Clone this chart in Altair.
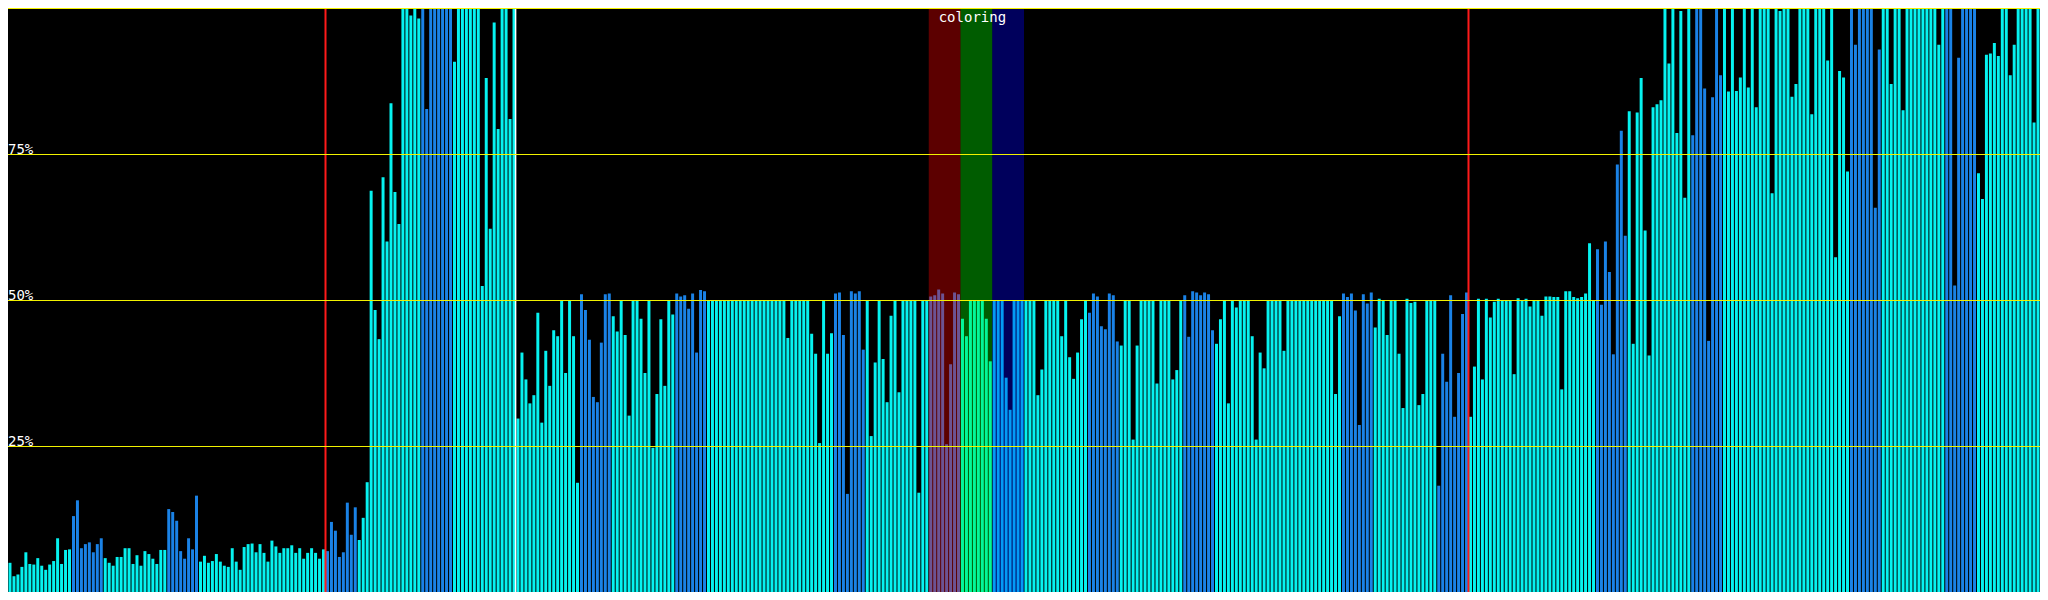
import altair as alt
import pandas as pd

# ---- bar heights (percent) ----
values_a = [
    5.0, 2.7, 3.0, 4.3, 6.8, 4.8, 4.7, 5.8, 4.5, 3.8,
    4.7, 5.3, 9.2, 4.8, 7.2, 7.3, 13.0, 15.7, 7.5, 8.2,
    8.5, 6.8, 8.2, 9.2, 5.8, 5.0, 4.5, 6.0, 6.0, 7.5,
    7.5, 4.8, 6.3, 4.5, 7.0, 6.5, 5.7, 4.8, 7.2, 7.2,
    14.2, 13.7, 12.2, 7.0, 5.7, 9.2, 7.3, 16.5, 5.2, 6.2,
    5.0, 5.3, 6.5, 5.2, 4.5, 4.3, 7.5, 5.2, 3.8, 7.7,
    8.2, 8.3, 6.8, 8.2, 6.7, 5.2, 8.8, 7.8, 6.7, 7.5,
    7.5, 8.0, 6.7, 7.5, 5.7, 6.7, 7.5, 6.7, 5.7, 7.3,
    7.0, 12.0, 10.5, 6.0, 6.8, 15.3, 9.8, 14.5, 8.9, 12.7,
    18.8, 68.7, 48.3, 43.3, 71.0, 60.0, 83.7, 68.5, 63.0, 100,
    100, 98.7, 100, 98.2, 100, 82.7, 100, 100, 100, 100,
    100, 100, 90.8, 100, 100, 100, 100, 100, 100, 52.4,
    88.0, 62.2, 97.5, 79.3, 100, 100, 81.0, 100,
]
values_b = [
    29.7, 41.0, 36.4, 32.3, 33.7, 47.8, 29.0, 41.3, 35.3, 44.8, 43.8, 50,
    37.5, 50, 43.8, 18.7, 51.0, 48.3, 43.2, 33.4, 32.5, 42.7,
    51.0, 51.1, 47.2, 44.6, 50, 44.0, 30.2, 50, 50, 46.8,
    37.5, 50, 24.7, 33.9, 46.7, 35.3, 50, 47.5, 51.1, 50.6,
    50.8, 48.5, 51.1, 41.0, 51.7, 51.5, 50, 50, 50, 50,
    50, 50, 50, 50, 50, 50, 50, 50, 50, 50,
    50, 50, 50, 50, 50, 50, 43.5, 50, 50, 50,
    50, 50, 44.2, 40.8, 25.5, 50, 40.8, 44.3, 51.1, 51.3,
    44.0, 16.8, 51.5, 51.1, 51.5, 41.5, 50, 26.7, 39.3, 50,
    39.9, 32.5, 47.3, 50, 34.2, 50, 50, 50, 50, 17.0,
    50, 50, 50.6, 50.8, 51.8, 51.1, 25.3, 39.0, 51.3, 51.0,
    46.8, 43.8, 50, 50, 50, 50, 46.8, 39.5, 50, 50,
    50, 36.7, 31.2, 50, 50, 50,
]
values_c = [
    50, 50, 50, 33.7, 38.1, 50, 50, 50, 50, 43.8,
    50, 40.2, 36.5, 41.0, 46.7, 50, 47.8, 51.1, 50.6, 45.5,
    45.0, 51.1, 50.8, 42.9, 42.2, 50, 50, 26.1, 42.2, 50,
    50, 50, 50, 35.7, 50, 50, 50, 36.4, 38.0, 50,
    50.8, 43.7, 51.5, 51.3, 50.8, 51.3, 51.0, 44.8, 42.5, 46.7,
    50, 32.3, 50, 48.7, 50, 50, 50, 43.8, 26.1, 41.0,
    38.3, 50, 50, 50, 50, 41.3, 50, 50, 50, 50,
    50, 50, 50, 50, 50, 50, 50, 50, 33.9, 47.2,
    51.1, 50.5, 51.1, 48.2, 28.6, 51.0, 49.4, 51.3, 45.3, 50.2,
    50, 44.0, 50, 50, 40.8, 31.5, 50.2, 49.5, 49.7, 32.0,
    33.9, 50, 50, 50, 18.2, 40.8, 36.0, 50.8, 30.0, 37.5,
    47.6, 51.3, 30.0, 38.6, 50.2, 36.4, 50.2, 47.0, 49.7, 50.2,
    50, 50, 50, 37.3, 50.3, 50, 50.2, 48.9,
]
values_d = [
    50, 50, 47.3, 50.6, 50.6, 50.5, 50.5, 34.7, 51.5, 51.5,
    50.5, 50.3, 50.5, 51.1, 59.7, 50, 58.7, 49.2, 60.0, 54.8,
    40.7, 73.2, 79.0, 61.0, 82.3, 42.5, 82.1, 88.0, 61.9, 40.5,
    83.0, 83.5, 84.2, 100, 90.5, 100, 78.6, 99.5, 67.5, 100,
    78.2, 100, 100, 86.2, 43.0, 84.7, 100, 88.5, 100, 85.7,
    100, 85.8, 88.1, 100, 86.4, 100, 83.0, 100, 100, 100,
    68.3, 100, 99.5, 100, 100, 84.8, 87.0, 100, 100, 100,
    81.8, 100, 100, 100, 91.0, 100, 57.3, 89.2, 88.1, 72.0,
    100, 93.7, 100, 100, 100, 100, 65.8, 92.9, 100, 100,
    87.0, 100, 100, 82.5, 100, 100, 100, 100, 100, 100,
    100, 100, 93.7, 100, 100, 100, 52.5, 91.5, 100, 100,
    100, 100, 71.7, 67.3, 92.0, 92.2, 94.0, 91.8, 100, 100,
    88.5, 93.7, 100, 100, 100, 100, 80.4, 100,
]

# first index of each 8-bar run drawn in the darker blue
blue_runs = [16, 40, 80, 104, 144, 168, 208, 232, 272, 296, 336, 360, 400, 424, 464, 488]
run_length = 8

# highlighted ranges (in bar slots) and their tint
overlay_names = ["red", "green", "blue"]
overlay_start = [232, 240, 248]
overlay_end = [240, 248, 256]
overlay_title = "coloring"
overlay_title_pos = 243

red_markers = [80, 368]
white_markers = [127.9]

grid_levels = [25, 50, 75, 100]
label_levels = [25, 50, 75]
label_texts = ["25%", "50%", "75%"]

# ---- build tables ----
values = values_a + values_b + values_c + values_d
n = len(values)
kind = ["cyan"] * n
for s in blue_runs:
    for j in range(s, s + run_length):
        kind[j] = "blue"

bars_df = pd.DataFrame({"i": list(range(n)), "v": values, "kind": kind})
overlay_df = pd.DataFrame({"name": overlay_names, "start": overlay_start, "end": overlay_end})
red_df = pd.DataFrame({"pos": red_markers})
white_df = pd.DataFrame({"pos": white_markers})
grid_df = pd.DataFrame({"lvl": grid_levels})
label_df = pd.DataFrame({"lvl": label_levels, "txt": label_texts})
title_df = pd.DataFrame({"pos": [overlay_title_pos], "lvl": [100], "txt": [overlay_title]})

W, H = 2032, 584
FONT = "DejaVu Sans Mono"
slot_scale = alt.Scale(domain=[0, n], nice=False, zero=False)
y_scale = alt.Scale(domain=[0, 100], nice=False, clamp=True)

bars = alt.Chart(bars_df).mark_bar().encode(
    x=alt.X("i:O", axis=None, scale=alt.Scale(paddingInner=0.25, paddingOuter=0.125)),
    y=alt.Y("v:Q", axis=None, scale=y_scale),
    color=alt.Color("kind:N", legend=None,
                    scale=alt.Scale(domain=["cyan", "blue"], range=["#06f2f0", "#1a82e6"])),
)

overlays = alt.Chart(overlay_df).mark_rect(opacity=0.36).encode(
    x=alt.X("start:Q", axis=None, scale=slot_scale),
    x2="end:Q",
    color=alt.Color("name:N", legend=None,
                    scale=alt.Scale(domain=overlay_names, range=["#ff0000", "#00ff00", "#0000ff"])),
)

red_rules = alt.Chart(red_df).mark_rule(color="#ff1a1a", strokeWidth=2).encode(
    x=alt.X("pos:Q", axis=None, scale=slot_scale)
)
white_rules = alt.Chart(white_df).mark_rule(color="#ffffff", strokeWidth=1.5).encode(
    x=alt.X("pos:Q", axis=None, scale=slot_scale)
)
grid = alt.Chart(grid_df).mark_rule(color="#f2f200", strokeWidth=1, yOffset=0.5).encode(
    y=alt.Y("lvl:Q", axis=None, scale=y_scale)
)
labels = alt.Chart(label_df).mark_text(
    align="left", baseline="alphabetic", font=FONT, fontSize=14, color="#ffffff"
).encode(
    x=alt.value(0),
    y=alt.Y("lvl:Q", axis=None, scale=y_scale),
    text="txt:N",
)
title = alt.Chart(title_df).mark_text(
    align="center", baseline="alphabetic", font=FONT, fontSize=14, color="#ffffff", dy=14
).encode(
    x=alt.X("pos:Q", axis=None, scale=slot_scale),
    y=alt.Y("lvl:Q", axis=None, scale=y_scale),
    text="txt:N",
)

chart = (
    alt.layer(bars, overlays, red_rules, white_rules, grid, labels, title)
    .resolve_scale(x="independent", color="independent")
    .properties(width=W, height=H, background="black", padding=0, autosize="none")
    .configure_view(strokeWidth=0)
)

chart.save("out.html", embed_options={"renderer": "svg", "actions": False})
